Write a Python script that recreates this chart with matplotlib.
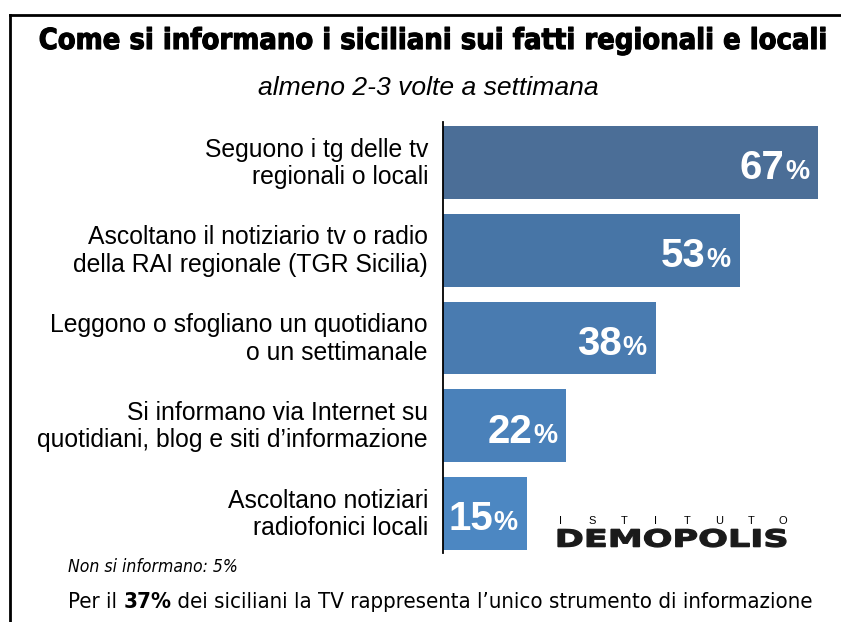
import matplotlib
matplotlib.use("Agg")
import matplotlib.pyplot as plt
import matplotlib.patheffects as pe
from matplotlib.lines import Line2D
from matplotlib.textpath import TextPath
from matplotlib.patches import PathPatch
from matplotlib.font_manager import FontProperties
from matplotlib.transforms import Affine2D, IdentityTransform

# dati: quota di siciliani che si informano almeno 2-3 volte a settimana
categorie = [
    "Seguono i tg delle tv\nregionali o locali",
    "Ascoltano il notiziario tv o radio\ndella RAI regionale (TGR Sicilia)",
    "Leggono o sfogliano un quotidiano\no un settimanale",
    "Si informano via Internet su\nquotidiani, blog e siti d\u2019informazione",
    "Ascoltano notiziari\nradiofonici locali",
]
valori = [67, 53, 38, 22, 15]

titolo = "Come si informano i siciliani sui fatti regionali e locali"
sottotitolo = "almeno 2-3 volte a settimana"
nota = "Non si informano: 5%"
frase = [("Per il ", "normal"), ("37%", "bold"),
         (" dei siciliani la TV rappresenta l\u2019unico strumento di informazione", "normal")]

colori = ["#4b6e97", "#4775a6", "#497bb0", "#4a81ba", "#4c87c2"]

W, H = 841, 622
fig = plt.figure(figsize=(W / 100, H / 100), dpi=100)
fig.patch.set_facecolor("white")


def fx(x):
    return x / W


def fy(y):
    return 1 - y / H


SANS = ["Liberation Sans", "DejaVu Sans"]
COND = "DejaVu Sans"

fig.canvas.draw()
renderer = fig.canvas.get_renderer()


def adatta(t, larghezza):
    # scala la dimensione del testo fino alla larghezza voluta (in pixel)
    w = t.get_window_extent(renderer).width
    t.set_fontsize(t.get_fontsize() * larghezza / w)


# cornice: linea in alto e a sinistra
fig.add_artist(Line2D([fx(10), fx(840)], [fy(15), fy(15)], color="black", lw=2, transform=fig.transFigure))
fig.add_artist(Line2D([fx(10), fx(10)], [fy(15), fy(622)], color="black", lw=2, transform=fig.transFigure))

t = fig.text(fx(431), fy(41), titolo, family=COND, stretch="condensed", weight="bold",
             fontsize=20, ha="center", va="center",
             path_effects=[pe.withStroke(linewidth=0.8, foreground="black")])
adatta(t, 790)
t = fig.text(fx(428), fy(88), sottotitolo, family=SANS, style="italic", fontsize=16,
             ha="center", va="center")
adatta(t, 340)

ax = fig.add_axes([fx(443), fy(553), fx(392), 431 / H])
pos = list(range(len(valori)))
ax.barh(pos, valori, height=0.83, color=colori)
ax.set_xlim(0, 70)
ax.set_ylim(4.45, -0.46)
for s in ["top", "right", "bottom"]:
    ax.spines[s].set_visible(False)
ax.spines["left"].set_linewidth(1.3)
ax.set_xticks([])
ax.set_yticks([])
ax.patch.set_alpha(0)

for i, v in enumerate(valori):
    ax.annotate(categorie[i], (0, i), xytext=(-15, -1), textcoords="offset pixels",
                ha="right", va="center", family=SANS, fontsize=17.8,
                linespacing=1.18, annotation_clip=False)
    pct = ax.annotate("%", (v, i), xytext=(-9, -17), textcoords="offset pixels",
                      ha="right", va="baseline", family=SANS, weight="bold",
                      fontsize=19.5, color="white")
    w = pct.get_window_extent(renderer).width
    ax.annotate(str(v), (v, i), xytext=(-9 - w - 1, -17), textcoords="offset pixels",
                ha="right", va="baseline", family=SANS, weight="bold",
                fontsize=29, color="white")

# logo: scritta piccola spaziata e DEMOPOLIS largo e basso
lettere = "ISTITUTO"
for k, c in enumerate(lettere):
    fig.text(fx(560 + k * 31.9), fy(521), c, family=SANS, fontsize=8, ha="center", va="center")
tp = TextPath((0, 0), "DEMOPOLIS", size=20, prop=FontProperties(family="DejaVu Sans", weight="bold"))
bb = tp.get_extents()
sx, sy = 228 / bb.width, 18 / bb.height
tr = Affine2D().translate(-bb.x0, -bb.y0).scale(sx, sy).translate(558, H - 547)
fig.add_artist(PathPatch(tp, transform=tr + IdentityTransform(), facecolor="#1a1a1a",
                         edgecolor="#1a1a1a", lw=0.9))

t = fig.text(fx(68), fy(567), nota, family=COND, stretch="condensed", style="italic",
             fontsize=12, ha="left", va="center")
adatta(t, 169)

# frase finale con il 37% in grassetto
pezzi = [fig.text(0, 0, testo, family=COND, stretch="condensed", weight=peso,
                  fontsize=15, ha="left", va="center") for testo, peso in frase]
totale = sum(p.get_window_extent(renderer).width for p in pezzi)
x = 68
for p in pezzi:
    p.set_fontsize(15 * 750 / totale)
    p.set_position((fx(x), fy(602)))
    x += p.get_window_extent(renderer).width

fig.savefig("out.png", dpi=100, facecolor="white")
